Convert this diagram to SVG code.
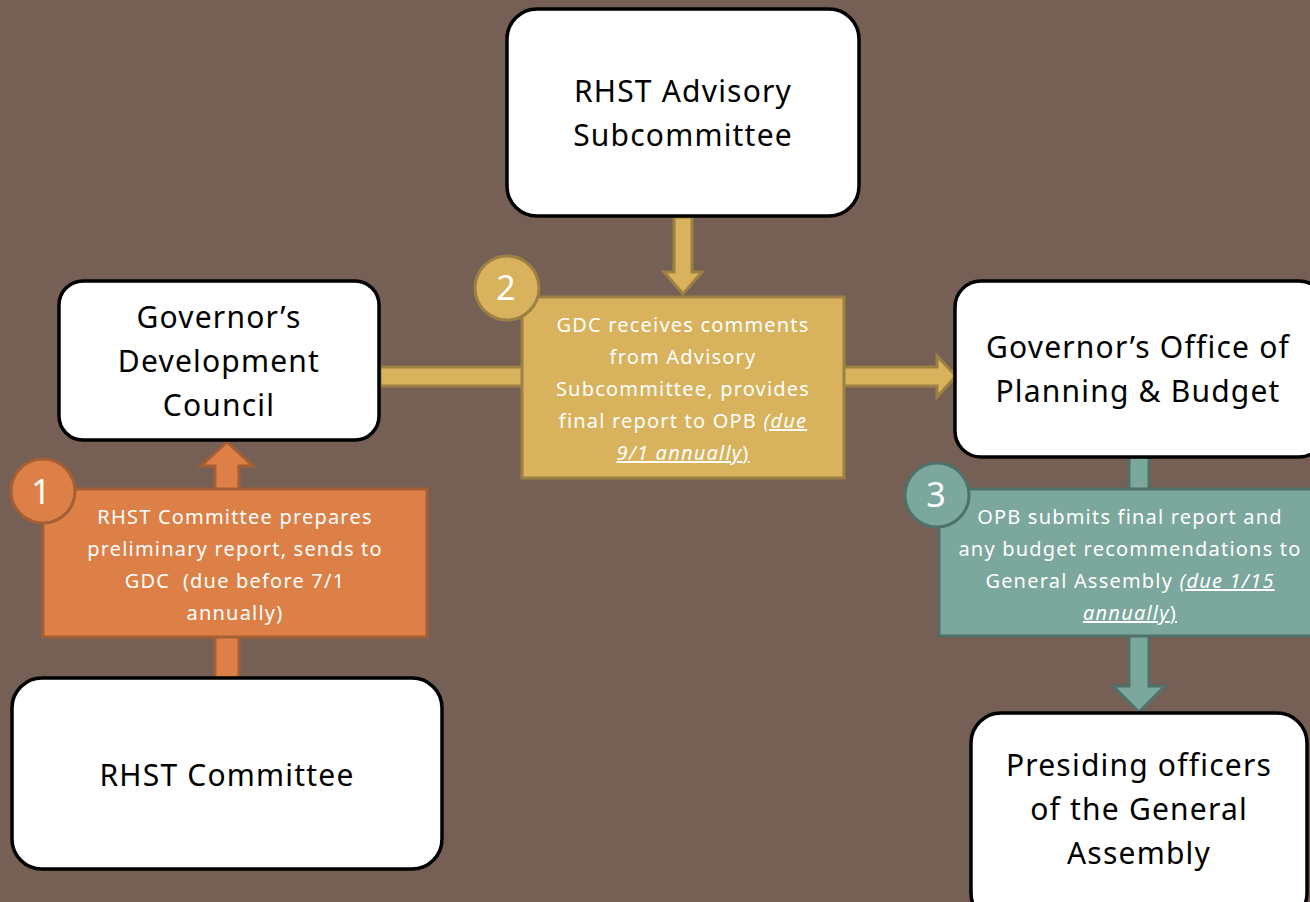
<svg xmlns="http://www.w3.org/2000/svg" width="1310" height="902" viewBox="0 0 1310 902">
<style>
.node rect{fill:#fff;stroke:#000;stroke-width:3.5}
.nt{font-family:"Noto Sans","Open Sans",sans-serif;font-size:30px;letter-spacing:1.2px;fill:#000;text-anchor:middle}
.st{font-family:"Noto Sans","Open Sans",sans-serif;font-size:20px;letter-spacing:1.2px;fill:#fff;text-anchor:middle}
.num{font-family:"Noto Sans","Open Sans",sans-serif;font-size:34px;fill:#fff;text-anchor:middle}
.u{font-style:italic;text-decoration:underline}
.uu{text-decoration:underline}
.or{fill:#DD8047;stroke:#A55F35;stroke-width:3}
.go{fill:#D8B25C;stroke:#9C8044;stroke-width:3}
.te{fill:#7BA79D;stroke:#4F7168;stroke-width:3}
</style>
<rect width="1310" height="902" fill="#765F55"/>
<g id="connectors">
  <path class="or" d="M215,678 V466 H201 L227,442 L253,466 H239 V678 Z"/>
  <path class="go" d="M674,217 V272 H664 L683,294 L702,272 H692 V217 Z"/>
  <path class="go" d="M380,367 H523 V386 H380 Z"/>
  <path class="go" d="M843,367 H937 V356 L956,376 L937,397 V386 H843 Z"/>
  <path class="te" d="M1129,457 V686 H1113 L1139,712 L1165,686 H1149 V457 Z"/>
</g>
<g id="advisory" class="node">
  <rect x="507" y="9" width="352" height="207" rx="30"/>
  <text class="nt" x="683" y="102">RHST Advisory</text>
  <text class="nt" x="683" y="146">Subcommittee</text>
</g>
<g id="gdc" class="node">
  <rect x="59" y="281" width="320" height="159" rx="24"/>
  <text class="nt" x="219" y="328">Governor’s</text>
  <text class="nt" x="219" y="372">Development</text>
  <text class="nt" x="219" y="416">Council</text>
</g>
<g id="opb" class="node">
  <rect x="955" y="281" width="370" height="176" rx="26"/>
  <text class="nt" x="1138" y="358">Governor’s Office of</text>
  <text class="nt" x="1138" y="402">Planning &amp; Budget</text>
</g>
<g id="rhst" class="node">
  <rect x="12" y="678" width="430" height="191" rx="30"/>
  <text class="nt" x="227" y="786">RHST Committee</text>
</g>
<g id="presiding" class="node">
  <rect x="971" y="713" width="336" height="210" rx="30"/>
  <text class="nt" x="1139" y="776">Presiding officers</text>
  <text class="nt" x="1139" y="820">of the General</text>
  <text class="nt" x="1139" y="864">Assembly</text>
</g>
<g id="step1">
  <rect class="or" x="43" y="489" width="384" height="148"/>
  <circle class="or" cx="43" cy="491" r="32"/>
  <text class="num" x="41" y="504">1</text>
  <text class="st" x="235" y="524">RHST Committee prepares</text>
  <text class="st" x="235" y="556">preliminary report, sends to</text>
  <text class="st" x="235" y="588">GDC&#160; (due before 7/1</text>
  <text class="st" x="235" y="620">annually)</text>
</g>
<g id="step2">
  <rect class="go" x="522" y="297" width="322" height="181"/>
  <circle class="go" cx="507" cy="288" r="32"/>
  <text class="num" x="506" y="300">2</text>
  <text class="st" x="683" y="332">GDC receives comments</text>
  <text class="st" x="683" y="364">from Advisory</text>
  <text class="st" x="683" y="396">Subcommittee, provides</text>
  <text class="st" x="683" y="428">final report to OPB <tspan class="u">(due</tspan></text>
  <text class="st" x="683" y="460"><tspan class="u">9/1 annually</tspan><tspan class="uu">)</tspan></text>
</g>
<g id="step3">
  <rect class="te" x="939" y="489" width="385" height="147"/>
  <circle class="te" cx="937" cy="495" r="32"/>
  <text class="num" x="936" y="507">3</text>
  <text class="st" x="1130" y="524">OPB submits final report and</text>
  <text class="st" x="1130" y="556">any budget recommendations to</text>
  <text class="st" x="1130" y="588">General Assembly <tspan class="u">(due 1/15</tspan></text>
  <text class="st" x="1130" y="620"><tspan class="u">annually</tspan><tspan class="uu">)</tspan></text>
</g>
</svg>
